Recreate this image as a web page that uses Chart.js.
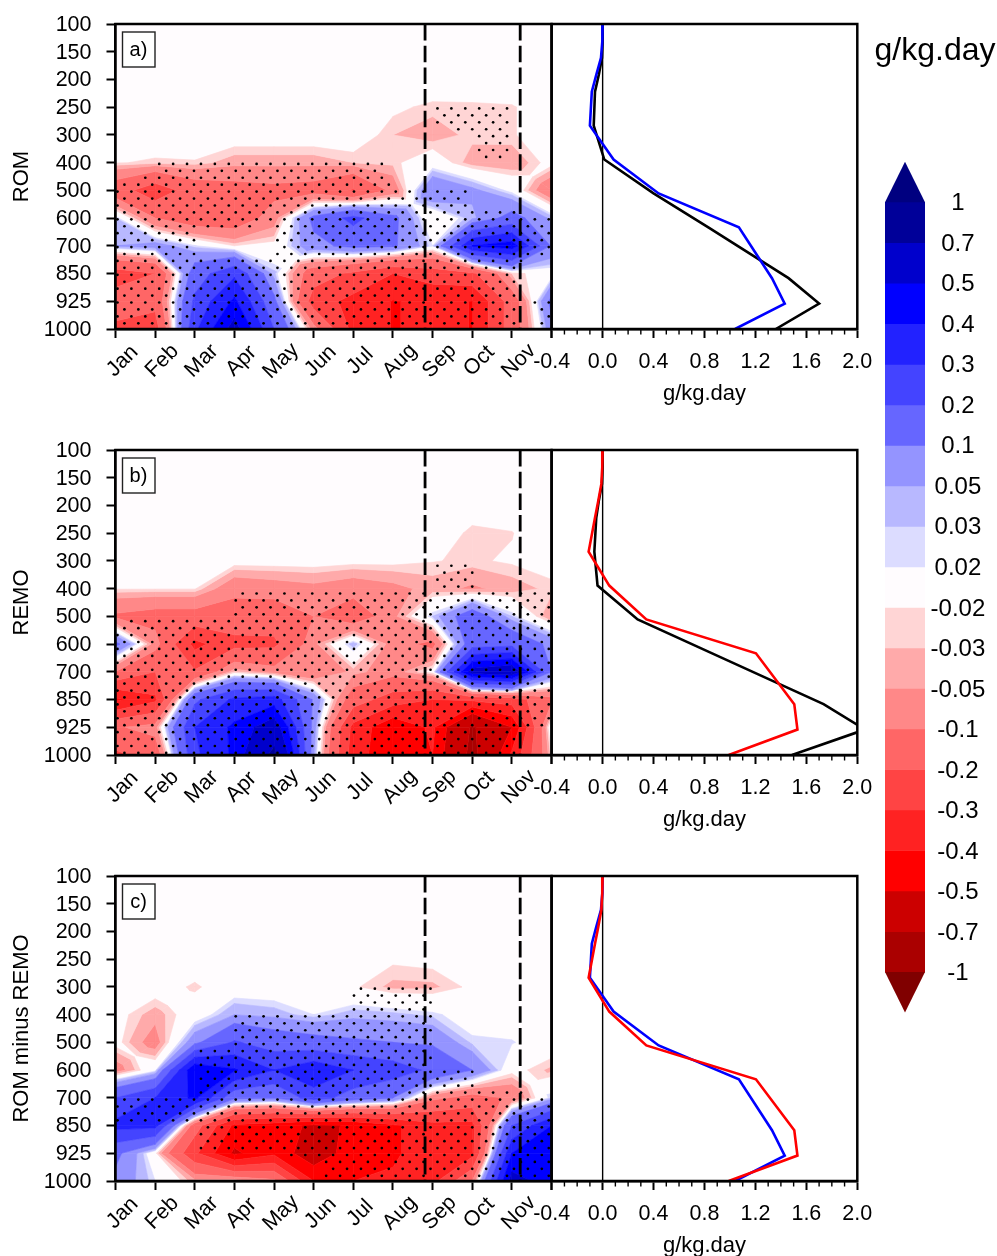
<!DOCTYPE html>
<html><head><meta charset="utf-8">
<style>html,body{margin:0;padding:0;background:#fff;width:997px;height:1256px;overflow:hidden}
canvas{position:absolute;display:block}</style>
<script src="https://cdn.jsdelivr.net/npm/chart.js@4"></script>
</head><body>
<script>
const months=['Jan','Feb','Mar','Apr','May','Jun','Jul','Aug','Sep','Oct','Nov','Dec'];
const levels=[100,150,200,250,300,400,500,600,700,850,925,1000];
const zeros=[0,0,0,0,0,0,0,0,0,0,0,0];
const romGrid=[zeros,zeros,zeros,
[0,0,0,0,0,0,0,-.015,-.025,-.024,-.022,-.005],
[0,0,0,-.005,-.005,-.005,-.003,-.03,-.04,-.025,-.022,-.005],
[-.018,-.024,-.022,-.04,-.04,-.04,-.03,-.025,0,-.04,-.045,-.01],
[-.15,-.26,-.15,-.13,-.12,-.13,-.21,-.08,.1,.06,.01,-.09],
[.03,-.1,-.15,-.15,-.07,.12,.23,.12,-.02,.04,.13,.04],
[.05,.07,.022,-.02,-.01,.08,.12,.11,.02,.4,.45,.09],
[-.25,-.2,.15,.28,.035,-.15,-.22,-.3,-.25,-.22,-.03,0],
[-.15,-.17,.22,.42,.12,-.25,-.33,-.405,-.38,-.402,-.15,.12],
[-.22,-.25,.28,.55,.2,-.07,-.33,-.405,-.38,-.402,-.15,.08]];
const remoGrid=[zeros,zeros,
[0,0,0,0,0,0,0,0,0,-.012,-.005,0],
[0,0,0,0,0,0,0,0,-.01,-.023,-.021,0],
[0,0,0,-.008,-.008,-.008,-.012,-.013,-.019,-.023,-.017,-.01],
[-.018,-.018,-.018,-.08,-.07,-.06,-.075,-.06,-.04,-.055,-.04,-.025],
[-.11,-.13,-.13,-.14,-.15,-.1,-.15,-.06,.03,.15,.03,-.05],
[.12,-.07,-.33,-.23,-.22,-.06,.04,-.07,-.12,.15,.17,.08],
[-.1,-.2,-.19,-.03,-.07,-.1,-.04,-.07,-.005,.55,.6,.1],
[-.42,-.32,.18,.32,.35,.09,-.15,-.25,-.3,-.28,-.25,-.12],
[-.11,-.07,.3,.42,.58,.07,-.33,-.48,-.38,-.72,-.5,.025],
[-.22,-.16,.28,.42,.75,.05,-.35,-.48,-.4,-.75,-.38,-.02]];
const diffGrid=[zeros,zeros,zeros,
[0,0,0,0,0,0,0,-.016,-.012,0,0,0],
[0,-.005,-.024,0,0,0,-.017,-.035,-.034,-.015,0,0],
[-.01,-.04,-.002,.05,.04,.02,.04,.035,.025,.005,0,0],
[-.01,-.07,.08,.21,.15,.13,.11,.1,.09,.025,.022,0],
[-.07,.01,.49,.41,.3,.38,.3,.25,.18,.1,-.01,-.035],
[.2,.3,.42,.12,.1,.25,.15,.1,-.08,-.13,-.09,.03],
[.33,.33,-.15,-.42,-.45,-.52,-.49,-.42,-.33,-.33,.2,.4],
[.12,-.01,-.28,-.52,-.42,-.58,-.44,-.42,-.33,-.33,.4,.45],
[.08,.02,-.04,-.03,-.08,-.4,-.4,-.38,-.33,-.1,.55,.45]];
// Significance regions, in [month index, level index] units
const romSig=[[[8.01,2.92],[9.9,2.92],[9.9,4.91],[9.1,4.91],[9.1,3.97],[8.51,3.83],[8.01,3.65]],
[[1.03,4.97],[6.79,4.97],[7.04,5.75],[7.38,5.93],[8.89,5.93],[9.02,6.59],[9.94,6.77],[11,6.86],[11,8.34],[10.07,8.76],[10.07,11.05],[0,11.05],[0,5.87],[1.03,5.39]],
[[10.49,9.94],[11,9.94],[11,11.05],[10.74,11.05]]];
const romSigHoles=[[[2.04,7.5],[4.02,7.2],[4.06,7.92],[4.02,8.46],[2.97,8.46],[2.04,8.46]]];
const remoSig=[[[8.01,4.09],[8.89,4.09],[9.06,4.33],[9.06,5],[8.01,5]],
[[2.97,5.08],[11,5.08],[11,9.87],[10.21,10.05],[10.11,11.05],[0,11.05],[0,6.3],[.35,6],[2.97,6]]];
const diffSig=[[[5.95,3.99],[7.97,3.99],[7.97,6.95],[9.02,6.95],[9.06,7.79],[10.03,7.73],[11,7.95],[11,11.05],[5.32,11.05],[5.07,10.13],[2.08,9.89],[2.08,8.93],[0,8.93],[0,8.24],[.18,7.95],[2.08,7.95],[2.08,6.23],[2.97,5.99],[2.97,4.95],[5.95,4.95]]];
const romProfile=[0,-.002,-.013,-.05,-.085,-.1,.086,.44,1.07,1.33,1.43,1.04];
const romObs=[0,0,-.005,-.03,-.06,-.07,.013,.4,.83,1.46,1.7,1.36];
const remoProfile=[0,-.003,-.01,-.034,-.06,-.11,.052,.343,1.204,1.505,1.53,.99];
const remoObs=[0,0,-.005,-.03,-.05,-.065,-.04,.275,.86,1.735,2.06,1.487];
const bounds=[-1,-.7,-.5,-.4,-.3,-.2,-.1,-.05,-.03,-.02,.02,.03,.05,.1,.2,.3,.4,.5,.7,1];
const bandColors=['#800000','#aa0000','#cc0000','#ff0000','#ff2222','#ff4444','#ff6666','#ff8888','#ffaaaa','#ffd5d5',
'#fffcfe','#dcdcff','#b8b8ff','#9494ff','#6666ff','#4444ff','#2222ff','#0000ff','#0000cc','#000099','#000080'];
const barLabels=['1','0.7','0.5','0.4','0.3','0.2','0.1','0.05','0.03','0.02','-0.02','-0.03','-0.05','-0.1','-0.2','-0.3','-0.4','-0.5','-0.7','-1'];
const dashedMonths=[7.81,10.21];
const BLACK='#000',FONT='"Liberation Sans",Arial,Helvetica,sans-serif';
Chart.defaults.font.family=FONT;Chart.defaults.color=BLACK;Chart.defaults.animation=false;

function noPad(s){s.paddingTop=s.paddingBottom=s.paddingLeft=s.paddingRight=0;}
function mk(left,top,w,h){const c=document.createElement('canvas');c.width=w;c.height=h;
 c.style.cssText=`left:${left}px;top:${top}px;width:${w}px;height:${h}px`;document.body.appendChild(c);return c;}
function clipPoly(p,lim,keepAbove){const out=[];
 for(let i=0;i<p.length;i++){const a=p[i],b=p[(i+1)%p.length];
  const ia=keepAbove?a.v>=lim:a.v<=lim, ib=keepAbove?b.v>=lim:b.v<=lim;
  if(ia)out.push(a);
  if(ia!==ib){const t=(lim-a.v)/(b.v-a.v);out.push({x:a.x+t*(b.x-a.x),y:a.y+t*(b.y-a.y),v:lim});}}
 return out;}
function saddle(q,l){const s=q.map(p=>p.v>=l);return s[0]===s[2]&&s[1]===s[3]&&s[0]!==s[1];}
function pieces(q){
 if(!saddle(q,.02)&&!saddle(q,-.02))return [q];
 const c={x:(q[0].x+q[2].x)/2,y:(q[0].y+q[2].y)/2,v:(q[0].v+q[1].v+q[2].v+q[3].v)/8};
 return q.map((p,i)=>[p,q[(i+1)%4],c]);}
function contourPlugin(grid){return{id:'contour',beforeDatasetsDraw(ch){
 const {ctx,chartArea:A,scales:{x,y}}=ch;
 ctx.save();ctx.beginPath();ctx.rect(A.left,A.top,A.right-A.left,A.bottom-A.top);ctx.clip();
 ctx.fillStyle=bandColors[10];ctx.fillRect(A.left,A.top,A.right-A.left,A.bottom-A.top);
 const P=(i,j)=>({x:x.getPixelForValue(i),y:y.getPixelForValue(j),v:grid[j][i]});
 const lims=[-1e9,...bounds,1e9];
 for(let b=0;b<bandColors.length;b++){ if(b===10)continue;
  ctx.fillStyle=ctx.strokeStyle=bandColors[b];ctx.lineWidth=.6;ctx.lineJoin='round';
  for(let j=0;j<11;j++)for(let i=0;i<11;i++){
   const q=[P(i,j),P(i+1,j),P(i+1,j+1),P(i,j+1)];
   for(const s of pieces(q)){
    let p=clipPoly(s,lims[b],true);if(p.length<3)continue;
    p=clipPoly(p,lims[b+1],false);if(p.length<3)continue;
    ctx.beginPath();p.forEach((r,k)=>k?ctx.lineTo(r.x,r.y):ctx.moveTo(r.x,r.y));ctx.closePath();ctx.fill();ctx.stroke();}}}
 ctx.restore();}};}
function inside(pt,poly){let c=false;for(let i=0,j=poly.length-1;i<poly.length;j=i++){
 const [xi,yi]=poly[i],[xj,yj]=poly[j];
 if((yi>pt[1])!==(yj>pt[1])&&pt[0]<(xj-xi)*(pt[1]-yi)/(yj-yi)+xi)c=!c;}return c;}
function stipple(regions,holes,shift,parity){const d=[];
 for(let k=0;k<=44;k++){const yy=(k+shift)/4;if(yy<0||yy>11)continue;
  const odd=(k+parity)%2;
  for(let m=0;m<32;m++){const xx=.05+.351*m+(odd?.1755:0);if(xx>11)continue;
   const pt=[xx,yy];
   if(regions.some(r=>inside(pt,r))&&!holes.some(r=>inside(pt,r)))d.push({x:xx,y:yy});}}
 return d;}
const frame={id:'frame',afterDatasetsDraw(ch){const {ctx,chartArea:A}=ch;ctx.save();ctx.strokeStyle=BLACK;ctx.lineWidth=2.5;
 ctx.strokeRect(A.left,A.top,A.right-A.left,A.bottom-A.top);ctx.restore();}};
function monthLabels(){return{id:'monthLabels',afterDraw(ch){const {ctx,chartArea:A,scales:{x}}=ch;ctx.save();
 ctx.font='21.5px '+FONT;ctx.fillStyle=BLACK;ctx.textAlign='center';ctx.textBaseline='middle';
 months.slice(0,11).forEach((m,i)=>{ctx.save();ctx.translate(x.getPixelForValue(i)+7,A.bottom+32);ctx.rotate(-Math.PI/4);ctx.fillText(m,0,0);ctx.restore();});
 ctx.restore();}};}
function tagBox(tag){return{id:'tagBox',afterDraw(ch){const {ctx,chartArea:A}=ch;ctx.save();
 const l=A.left+7,t=A.top+8;ctx.fillStyle='#fff';ctx.strokeStyle='#222';ctx.lineWidth=1.4;
 ctx.fillRect(l,t,32.5,35);ctx.strokeRect(l,t,32.5,35);
 ctx.fillStyle=BLACK;ctx.font='20px '+FONT;ctx.textAlign='center';ctx.textBaseline='middle';ctx.fillText(tag,l+16,t+18);ctx.restore();}};}

function contourChart(top,title,tag,grid,regions,holes,shift,parity){
 const cv=mk(0,top-10,560,375);
 const ds=[{label:'significant',data:stipple(regions,holes,shift,parity),pointRadius:1.35,pointBackgroundColor:BLACK,pointBorderWidth:0,showLine:false,order:2}];
 dashedMonths.forEach((m,i)=>ds.push({label:'mark'+i,data:[{x:m,y:0},{x:m,y:11}],showLine:true,borderColor:BLACK,borderWidth:2.8,borderDash:[16.5,5.2],pointRadius:0,order:1,clip:false}));
 new Chart(cv,{type:'scatter',data:{datasets:ds},plugins:[contourPlugin(grid),frame,monthLabels(),tagBox(tag)],options:{
  responsive:false,layout:{autoPadding:false,padding:{top:10,right:8.5,left:0,bottom:0}},
  plugins:{legend:{display:false},tooltip:{enabled:false}},
  scales:{
   x:{type:'linear',min:0,max:11,afterFit(s){s.height=60;noPad(s);},ticks:{stepSize:1,display:false},
    grid:{drawOnChartArea:false,drawTicks:true,tickLength:9,tickWidth:2,tickColor:BLACK},border:{color:BLACK,width:2.5}},
   y:{type:'linear',reverse:true,min:0,max:11,afterFit(s){s.width=115.5;noPad(s);},
    ticks:{stepSize:1,padding:15,labelOffset:1,color:BLACK,font:{size:21.5},autoSkip:false,callback:v=>levels[v]},
    grid:{drawOnChartArea:false,drawTicks:true,tickLength:9,tickWidth:2,tickColor:BLACK},border:{color:BLACK,width:2.5},
    title:{display:true,text:title,color:BLACK,font:{size:22},padding:{top:9,bottom:0}}}}}});
}
const minorTicks={id:'minorTicks',afterDraw(ch){const {ctx,chartArea:A,scales:{x}}=ch;ctx.save();ctx.strokeStyle=BLACK;ctx.lineWidth=1.4;
 for(let i=-4;i<=20;i++){if(i%4===0)continue;const px=x.getPixelForValue(i/10);ctx.beginPath();ctx.moveTo(px,A.bottom);ctx.lineTo(px,A.bottom+5.5);ctx.stroke();}
 ctx.restore();}};
function profileChart(top,series){
 const cv=mk(530,top-10,350,393);
 const pts=a=>a.map((v,i)=>({x:v,y:levels[i]}));
 const ds=[{label:'zero',data:[{x:0,y:100},{x:0,y:1000}],borderColor:BLACK,borderWidth:1.4,pointRadius:0,showLine:true,order:9}];
 series.forEach((s,i)=>ds.push({label:s.name,data:pts(s.v),borderColor:s.c,borderWidth:2.6,pointRadius:0,showLine:true,tension:0,order:5-i}));
 new Chart(cv,{type:'scatter',data:{datasets:ds},plugins:[frame,minorTicks],options:{
  responsive:false,layout:{autoPadding:false,padding:{top:10,right:22.7,left:21.7,bottom:0}},
  plugins:{legend:{display:false},tooltip:{enabled:false}},
  scales:{
   x:{type:'linear',min:-.4,max:2,afterFit(s){s.height=78;noPad(s);},
    ticks:{stepSize:.4,padding:11,maxRotation:0,autoSkip:false,color:BLACK,font:{size:21.5},callback:v=>(Math.abs(v)<1e-9?0:v).toFixed(1)},
    grid:{drawOnChartArea:false,drawTicks:true,tickLength:9,tickWidth:2,tickColor:BLACK},border:{color:BLACK,width:2.5},
    title:{display:true,text:'g/kg.day',color:BLACK,font:{size:22},padding:{top:0,bottom:0}}},
   y:{type:'linear',reverse:true,min:100,max:1000,display:false}}}});
}
contourChart(24,'ROM','a)',romGrid,romSig,romSigHoles,.18,0);
contourChart(450,'REMO','b)',remoGrid,remoSig,[],-.3,1);
contourChart(876,'ROM minus REMO','c)',diffGrid,diffSig,[],.25,1);
profileChart(24,[{name:'obs',v:romObs,c:BLACK},{name:'ROM',v:romProfile,c:'#0000ff'}]);
profileChart(450,[{name:'obs',v:remoObs,c:BLACK},{name:'REMO',v:remoProfile,c:'#ff0000'}]);
profileChart(876,[{name:'ROM',v:romProfile,c:'#0000ff'},{name:'REMO',v:remoProfile,c:'#ff0000'}]);

// colour bar
(function(){
 const cv=mk(860,0,137,1030);
 const rev=bandColors.slice().reverse();
 const ds=[];
 for(let i=0;i<19;i++)ds.push({label:barLabels[i],data:[[i,i+1]],backgroundColor:rev[i+1],borderWidth:0,grouped:false,barPercentage:1,categoryPercentage:1});
 const ends={id:'ends',afterDatasetsDraw(ch){const {ctx,chartArea:A,scales:{y}}=ch;const mid=(A.left+A.right)/2;ctx.save();
  ctx.fillStyle=rev[0];ctx.beginPath();ctx.moveTo(A.left,y.getPixelForValue(0));ctx.lineTo(A.right,y.getPixelForValue(0));ctx.lineTo(mid,y.getPixelForValue(-1));ctx.closePath();ctx.fill();
  ctx.fillStyle=rev[20];ctx.beginPath();ctx.moveTo(A.left,y.getPixelForValue(19));ctx.lineTo(A.right,y.getPixelForValue(19));ctx.lineTo(mid,y.getPixelForValue(20));ctx.closePath();ctx.fill();
  ctx.fillStyle=BLACK;ctx.font='32px '+FONT;ctx.textAlign='center';ctx.textBaseline='alphabetic';ctx.fillText('g/kg.day',75,60);ctx.restore();}};
 new Chart(cv,{type:'bar',data:{labels:['bar'],datasets:ds},plugins:[ends],options:{
  responsive:false,layout:{autoPadding:false,padding:{top:161.7,bottom:17.4,left:25,right:0}},
  plugins:{legend:{display:false},tooltip:{enabled:false}},
  scales:{x:{display:false},
   y:{type:'linear',position:'right',reverse:true,min:-1,max:20,afterFit(s){s.width=72;noPad(s);},
    afterBuildTicks(s){s.ticks=barLabels.map((_,i)=>({value:i}));},
    ticks:{autoSkip:false,padding:5.6,labelOffset:1.5,crossAlign:'center',color:BLACK,font:{size:24},callback:v=>barLabels[v]},
    grid:{display:false,drawTicks:false},border:{display:false}}}}});
})();
</script>
</body></html>
